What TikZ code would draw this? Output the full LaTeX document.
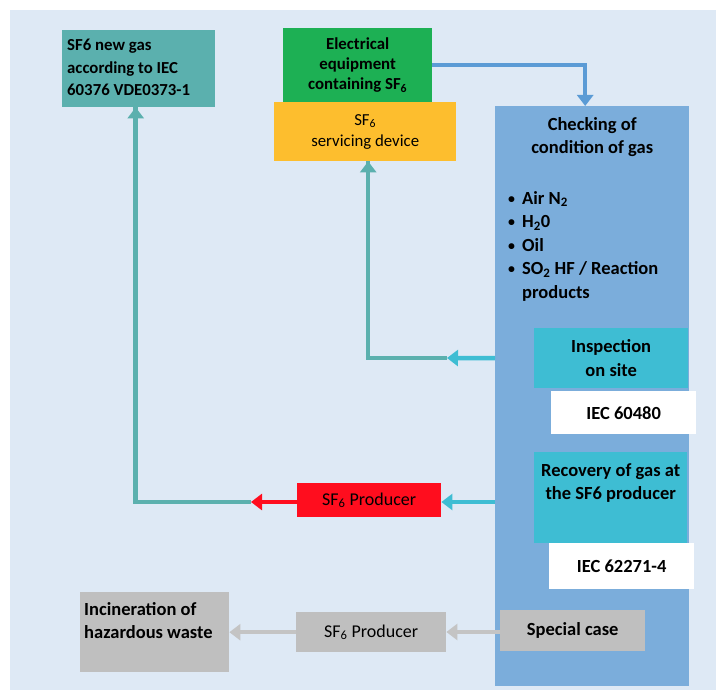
\documentclass[tikz,border=0pt]{standalone}
\usepackage{fontspec}
\setmainfont{Carlito}
\usetikzlibrary{arrows.meta}
\definecolor{bgc}{HTML}{DEE9F5}
\definecolor{tealc}{HTML}{5BB0AE}
\definecolor{greenc}{HTML}{1DB054}
\definecolor{yellowc}{HTML}{FDBE2E}
\definecolor{bluec}{HTML}{7BADDB}
\definecolor{cyanc}{HTML}{3EBDD3}
\definecolor{redc}{HTML}{FF0D1E}
\definecolor{grayc}{HTML}{BFBFBF}
\definecolor{grayarr}{HTML}{C4C4C4}
\definecolor{bluearr}{HTML}{5B9BD5}
\newcommand{\smbul}{\makebox[14pt][l]{\raisebox{1pt}{\scalebox{0.75}{•}}}}
\begin{document}
\begin{tikzpicture}[x=1pt,y=-1pt,
  box/.style={draw=none, inner sep=0pt, anchor=north west, align=center},
  bigtxt/.style={font=\fontsize{18.5}{23.5}\selectfont\bfseries, align=center, inner sep=0pt},
  midtxt/.style={font=\fontsize{16.8}{19.8}\selectfont\bfseries, align=center, inner sep=0pt},
  arr/.style={line width=4.5pt, -{Triangle[width=16pt,length=11pt]}},
  ln/.style={line width=4.5pt}
]
\useasboundingbox (0,0) rectangle (716,695);
\fill[bgc] (10,10) rectangle (716,690);

% boxes
\node[box, fill=tealc, minimum width=153pt, minimum height=77pt] (newgas) at (62,30) {};
\node[anchor=north west, inner sep=0pt, align=left, font=\fontsize{16.8}{22.5}\selectfont\bfseries] (newgastxt) at (67,39) {SF6 new gas\\according to IEC\\60376 VDE0373-1};

\node[box, fill=greenc, minimum width=149pt, minimum height=74pt, midtxt] (equip) at (283,28) {Electrical\\equipment\\containing SF\textsubscript{6}};
\node[box, fill=yellowc, minimum width=182pt, minimum height=59pt, font=\fontsize{16.8}{21}\selectfont] (serv) at (274,102) {SF\textsubscript{6}\\servicing device};

\node[box, fill=bluec, minimum width=194pt, minimum height=580pt] (check) at (495,106) {};
\node[bigtxt] (checktxt) at ([yshift=-31pt]check.north) {Checking of\\condition of gas};
\node[anchor=north west, inner sep=0pt, align=left, font=\fontsize{18.5}{23.5}\selectfont\bfseries] (bullets) at (508,191)
 {\smbul Air N\textsubscript{2}\\
  \smbul H\textsubscript{2}0\\
  \smbul Oil\\
  \smbul SO\textsubscript{2} HF / Reaction\\
  \hspace*{14pt}products};

\node[box, fill=cyanc, minimum width=154pt, minimum height=60pt, bigtxt] (insp) at (534,328) {Inspection\\on site};
\node[box, fill=white, minimum width=145pt, minimum height=43pt, font=\fontsize{18.5}{20}\selectfont\bfseries] (iec1) at (551,391) {IEC 60480};

\node[box, fill=cyanc, minimum width=153pt, minimum height=91pt] (recov) at (534,452) {};
\node[bigtxt] (recovtxt) at ([yshift=-31pt]recov.north) {Recovery of gas at\\the SF6 producer};
\node[box, fill=white, minimum width=145pt, minimum height=46pt, font=\fontsize{18.5}{20}\selectfont\bfseries] (iec2) at (549,543) {IEC 62271-4};

\node[box, fill=redc, minimum width=144pt, minimum height=34pt, font=\fontsize{18}{20}\selectfont] (prod1) at (297,483) {SF\textsubscript{6} Producer};

\node[box, fill=grayc, minimum width=149pt, minimum height=80pt] (incin) at (80,592) {};
\node[anchor=north west, inner sep=0pt, align=left, font=\fontsize{18.5}{23.5}\selectfont\bfseries] (incintxt) at (84,602) {Incineration of\\hazardous waste};
\node[box, fill=grayc, minimum width=150pt, minimum height=40pt, font=\fontsize{18}{20}\selectfont] (prod2) at (296,612) {SF\textsubscript{6} Producer};
\node[box, fill=grayc, minimum width=145pt, minimum height=41pt, font=\fontsize{18.5}{20}\selectfont\bfseries] (special) at (500,610) {\raisebox{2pt}{Special case}};

% connectors
\draw[arr, bluearr] (equip.east) -| ([xshift=-7pt]check.north);

\coordinate (t1) at (447,358);
\draw[ln, tealc] (t1) -| ([xshift=3pt]serv.south) ;
\draw[arr, tealc] ([xshift=3pt,yshift=-40pt]serv.south) -- ([xshift=3pt]serv.south);
\draw[arr, cyanc] (check.west |- insp.west) -- (t1);

\coordinate (t2) at (251,502);
\draw[ln, tealc] (t2) -| ([xshift=-3pt]newgas.south);
\draw[arr, tealc] ([xshift=-3pt,yshift=-40pt]newgas.south) -- ([xshift=-3pt]newgas.south);
\draw[arr, cyanc] (check.west |- 0,502) -- (prod1.east |- 0,502);
\draw[arr, redc] (prod1.west |- 0,502) -- (t2);

\draw[arr, grayarr] (special.west |- 0,632) -- (prod2.east |- 0,632);
\draw[arr, grayarr] (prod2.west) -- (incin.east |- prod2.west);
\end{tikzpicture}
\end{document}
